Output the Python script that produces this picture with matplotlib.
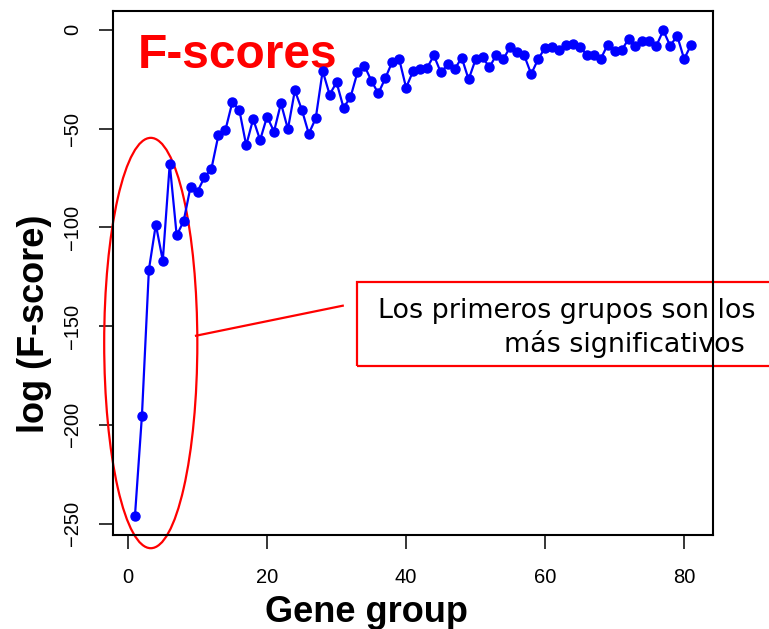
import matplotlib
matplotlib.use("Agg")
import matplotlib.pyplot as plt
from matplotlib.patches import Ellipse, Rectangle

# gene group index and log F-score
group = list(range(1, 82))
log_fscore = [
    -246.0, -195.4, -121.5, -98.6, -116.9, -67.9, -104.1, -96.9, -79.4, -81.9,
    -74.6, -70.3, -53.4, -50.9, -36.7, -40.4, -58.5, -45.2, -55.8, -44.0,
    -51.5, -37.2, -50.3, -30.7, -40.4, -52.6, -44.9, -20.8, -32.8, -26.6,
    -39.4, -34.2, -21.6, -18.2, -25.7, -32.2, -24.6, -16.3, -14.7, -29.3,
    -21.0, -19.7, -19.4, -13.0, -21.6, -17.5, -19.9, -14.1, -25.1, -15.0,
    -14.0, -18.9, -12.6, -14.7, -8.6, -11.3, -13.0, -22.4, -14.8, -9.1,
    -8.9, -10.4, -7.8, -7.1, -8.6, -12.6, -13.0, -14.7, -7.6, -10.8,
    -10.4, -4.7, -8.1, -5.6, -5.9, -8.1, -0.3, -8.1, -3.0, -14.8,
    -7.6,
]
x_ticks = [0, 20, 40, 60, 80]
y_ticks = [0, -50, -100, -150, -200, -250]

plt.rcParams['font.family'] = ['Liberation Sans', 'DejaVu Sans']

fig = plt.figure(figsize=(7.69, 6.29), dpi=100)
ax = fig.add_axes([0.1466, 0.1494, 0.781, 0.8331])

ax.plot(group, log_fscore, color='#0000ff', lw=1.6, marker='o', ms=6.5, zorder=3)

# R style range: data range padded by 4%
xr = max(group) - min(group)
yr = max(log_fscore) - min(log_fscore)
ax.set_xlim(min(group) - 0.04 * xr, max(group) + 0.04 * xr)
ax.set_ylim(min(log_fscore) - 0.04 * yr, max(log_fscore) + 0.04 * yr)

ax.set_xticks(x_ticks)
ax.set_yticks(y_ticks)
ax.tick_params(direction='out', length=10, width=1.1, labelsize=14.5, pad=12)
ax.tick_params(axis='x', pad=14)
for lab in ax.get_yticklabels():
    lab.set_rotation(90)
    lab.set_va('center')
for sp in ax.spines.values():
    sp.set_linewidth(1.5)

fig.text(0.0449, 0.4857, 'log (F-score)', rotation=90, ha='center', va='center',
         fontsize=26, fontweight='bold')
fig.text(0.4766, 0.011, 'Gene group', ha='center', va='baseline',
         fontsize=26, fontweight='bold')

ax.text(1.34, -19.1, 'F-scores', color='red', fontsize=34.5, fontweight='bold',
        ha='left', va='baseline', zorder=2)

# annotation: ellipse, pointer and box
ax.add_patch(Ellipse((3.27, -158.6), 13.4, 207.8, fill=False, ec='red', lw=1.6,
                     clip_on=False, zorder=2))
ax.plot([9.78, 30.89], [-154.9, -139.7], color='red', lw=1.6, clip_on=False, zorder=2)
ax.add_patch(Rectangle((33.0, -170.2), 60.0, 42.3, fill=False, ec='red', lw=1.6,
                       clip_on=False, zorder=2))
ax.text(90.3, -146.0, 'Los primeros grupos son los', ha='right', va='baseline',
        fontsize=19.4, family='DejaVu Sans', clip_on=False, zorder=2)
ax.text(88.7, -163.0, 'más significativos', ha='right', va='baseline',
        fontsize=19.4, family='DejaVu Sans', clip_on=False, zorder=2)

fig.savefig('out.png', dpi=100)
